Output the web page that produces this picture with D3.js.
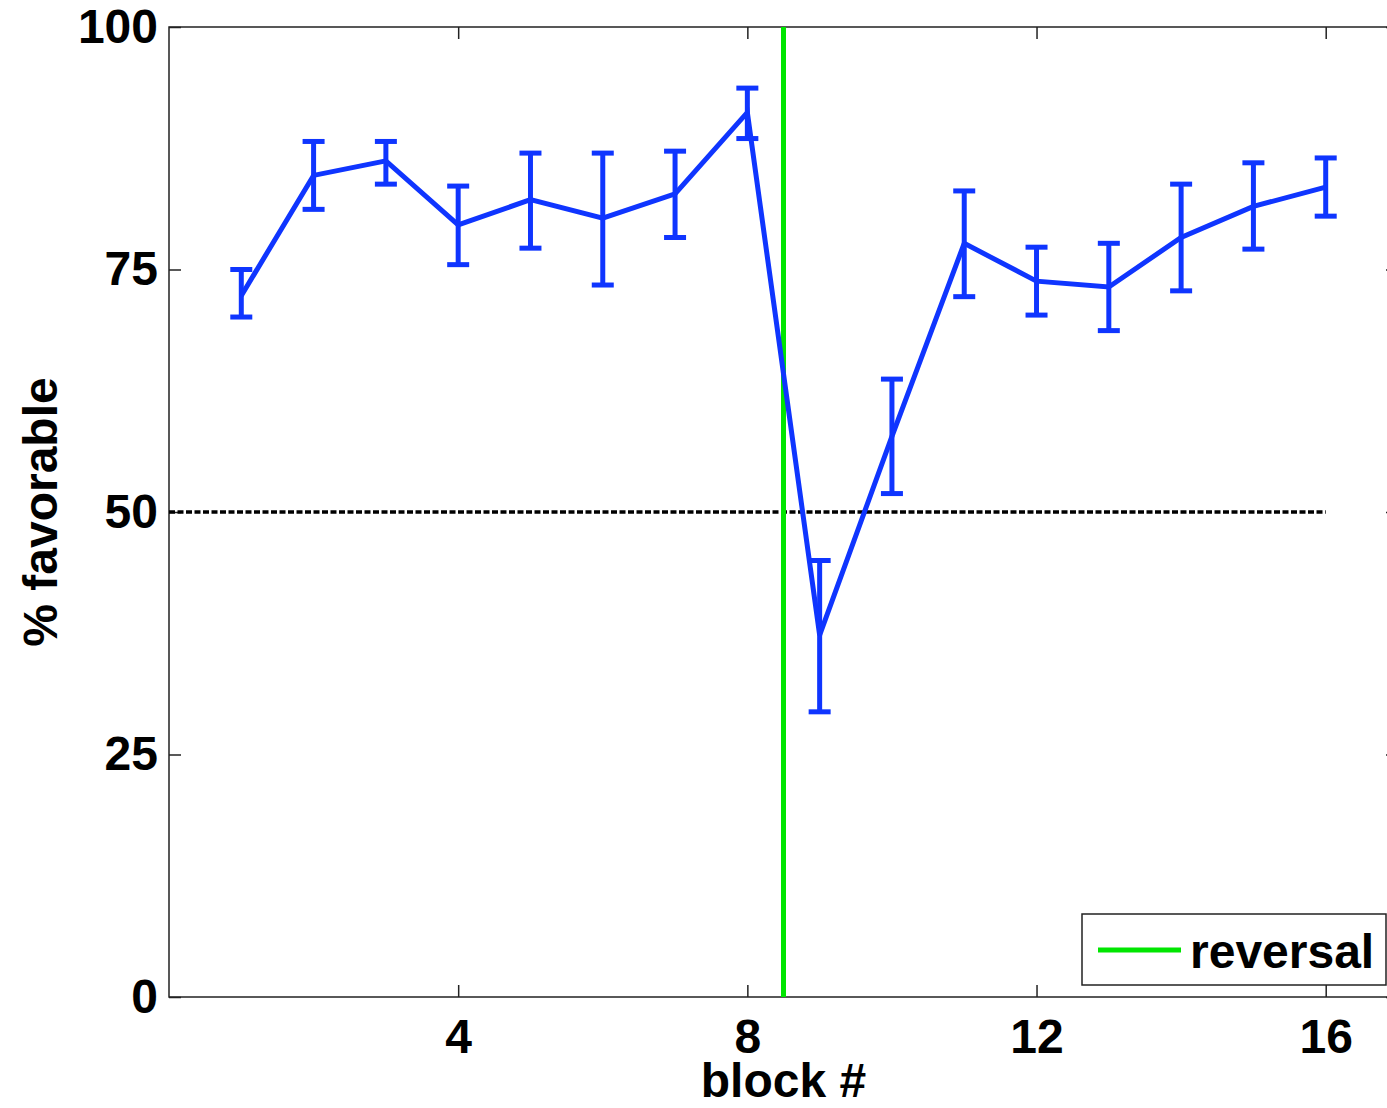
<!DOCTYPE html>
<html>
<head>
    <script src="https://d3js.org/d3.v7.min.js"></script>
    <title>% favorable by block</title>
    <style>
        body { margin: 0; background: #fff; }
        text { font-family: "Liberation Sans", Arial, sans-serif; font-weight: bold; }
    </style>
</head>
<body>
    <svg id="plot" width="1387" height="1108"></svg>
    <script>
        // data
        const blocks = [1, 2, 3, 4, 5, 6, 7, 8, 9, 10, 11, 12, 13, 14, 15, 16];
        const favorable = [72.3, 84.7, 86.2, 79.6, 82.2, 80.3, 82.8, 91.2, 37.3, 57.8, 77.7, 73.8, 73.2, 78.3, 81.5, 83.5];
        const errUpper = [75.0, 88.2, 88.2, 83.6, 87.0, 87.0, 87.2, 93.7, 45.0, 63.7, 83.1, 77.3, 77.7, 83.8, 86.0, 86.5];
        const errLower = [70.1, 81.2, 83.8, 75.5, 77.2, 73.4, 78.3, 88.5, 29.4, 51.9, 72.2, 70.3, 68.7, 72.8, 77.1, 80.5];
        const xTicks = [4, 8, 12, 16];
        const yTicks = [0, 25, 50, 75, 100];
        const reversalAt = [8.5];
        const chanceLevel = [50];

        const svg = d3.select('svg#plot');
        const margin = {top: 27, left: 169};
        const plotRight = 1398, plotBottom = 997;
        const fs = 48;

        const x = d3.scaleLinear().domain([0, 17]).range([margin.left, plotRight]);
        const y = d3.scaleLinear().domain([0, 100]).range([plotBottom, margin.top]);

        const blue = '#0f35ff';

        // frame
        svg.append('rect')
            .attr('x', margin.left).attr('y', margin.top)
            .attr('width', plotRight - margin.left).attr('height', plotBottom - margin.top)
            .attr('fill', 'none').attr('stroke', '#222').attr('stroke-width', 1.5);

        // axes, ticks inward
        const tickLen = 12;
        svg.append('g')
            .attr('transform', `translate(0,${plotBottom})`)
            .call(d3.axisBottom(x).tickValues(xTicks).tickSizeInner(-tickLen).tickSizeOuter(0).tickPadding(22))
            .call(g => g.select('.domain').remove())
            .call(g => g.selectAll('text').attr('font-size', fs).attr('fill', '#000').attr('dy', '0.71em').attr('font-family', '"Liberation Sans", Arial, sans-serif'));
        svg.append('g')
            .attr('transform', `translate(0,${margin.top})`)
            .call(d3.axisTop(x).tickValues(xTicks).tickSizeInner(-tickLen).tickSizeOuter(0).tickFormat(''))
            .call(g => g.select('.domain').remove());
        svg.append('g')
            .attr('transform', `translate(${margin.left},0)`)
            .call(d3.axisLeft(y).tickValues(yTicks).tickSizeInner(-tickLen).tickSizeOuter(0).tickPadding(11))
            .call(g => g.select('.domain').remove())
            .call(g => g.selectAll('text').attr('font-size', fs).attr('fill', '#000').attr('font-family', '"Liberation Sans", Arial, sans-serif'));
        svg.append('g')
            .attr('transform', `translate(${plotRight},0)`)
            .call(d3.axisRight(y).tickValues(yTicks).tickSizeInner(-tickLen).tickSizeOuter(0).tickFormat(''))
            .call(g => g.select('.domain').remove());
        svg.selectAll('.tick line').attr('stroke', '#222').attr('stroke-width', 1.5);

        // chance line
        svg.selectAll('line.chance').data(chanceLevel).enter().append('line')
            .attr('class', 'chance')
            .attr('x1', x(0)).attr('x2', x(16))
            .attr('y1', d => y(d)).attr('y2', d => y(d))
            .attr('stroke', '#000').attr('stroke-width', 3.5).attr('stroke-dasharray', '6,2.5');

        // reversal line
        svg.selectAll('line.reversal').data(reversalAt).enter().append('line')
            .attr('class', 'reversal')
            .attr('x1', d => x(d)).attr('x2', d => x(d))
            .attr('y1', y(0)).attr('y2', y(100))
            .attr('stroke', '#00e600').attr('stroke-width', 5);

        // error bars
        const cap = 11;
        const sw = 5;
        const eb = svg.append('g').selectAll('g').data(blocks).enter().append('g');
        eb.append('line')
            .attr('x1', d => x(d)).attr('x2', d => x(d))
            .attr('y1', (d, i) => y(errLower[i])).attr('y2', (d, i) => y(errUpper[i]))
            .attr('stroke', blue).attr('stroke-width', sw);
        eb.append('line')
            .attr('x1', d => x(d) - cap).attr('x2', d => x(d) + cap)
            .attr('y1', (d, i) => y(errUpper[i])).attr('y2', (d, i) => y(errUpper[i]))
            .attr('stroke', blue).attr('stroke-width', sw);
        eb.append('line')
            .attr('x1', d => x(d) - cap).attr('x2', d => x(d) + cap)
            .attr('y1', (d, i) => y(errLower[i])).attr('y2', (d, i) => y(errLower[i]))
            .attr('stroke', blue).attr('stroke-width', sw);

        // mean line
        const line = d3.line().x((d, i) => x(blocks[i])).y(d => y(d));
        svg.append('path')
            .datum(favorable)
            .attr('d', line)
            .attr('fill', 'none').attr('stroke', blue).attr('stroke-width', sw).attr('stroke-linejoin', 'miter');

        // legend
        const lg = svg.append('g');
        lg.append('rect')
            .attr('x', 1082).attr('y', 914).attr('width', 304).attr('height', 71)
            .attr('fill', '#fff').attr('stroke', '#222').attr('stroke-width', 1.5);
        lg.append('line')
            .attr('x1', 1098).attr('x2', 1181).attr('y1', 950).attr('y2', 950)
            .attr('stroke', '#00e600').attr('stroke-width', 5);
        lg.append('text')
            .attr('x', 1190).attr('y', 968)
            .attr('font-size', fs).text('reversal');

        // axis labels
        svg.append('text')
            .attr('x', x(8.5)).attr('y', 1097)
            .attr('text-anchor', 'middle').attr('font-size', fs)
            .text('block #');
        svg.append('text')
            .attr('transform', `translate(57,${y(50)}) rotate(-90)`)
            .attr('text-anchor', 'middle').attr('font-size', fs)
            .text('% favorable');
    </script>
</body>
</html>
